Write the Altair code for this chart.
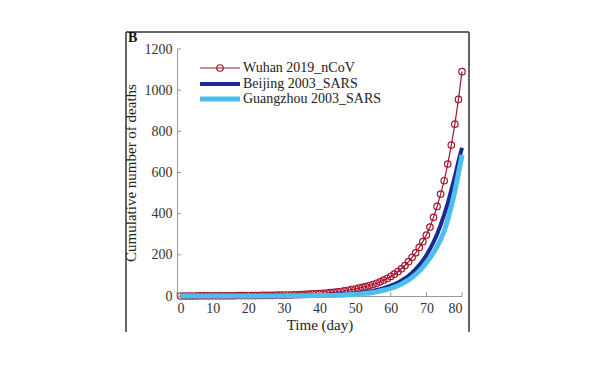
import altair as alt
import pandas as pd

days = list(range(1, 81))
wuhan = [0, 0, 0, 0, 0, 1, 1, 1, 1, 1,
         1, 1, 1, 1, 1, 1, 2, 2, 2, 2,
         2, 2, 2, 3, 3, 3, 3, 4, 4, 4,
         5, 5, 6, 6, 7, 8, 9, 10, 11, 12,
         13, 14, 16, 18, 20, 22, 25, 28, 31, 34,
         38, 42, 46, 51, 56, 62, 69, 77, 85, 95,
         106, 118, 132, 148, 167, 188, 210, 236, 264, 296,
         335, 382, 435, 495, 560, 641, 733, 835, 955, 1090]
beijing = [0, 0, 0, 0, 0, 0, 0, 0, 0, 0,
           0, 0, 0, 0, 0, 0, 0, 0, 0, 0,
           0, 0, 0, 0, 0, 1, 1, 1, 1, 1,
           1, 1, 2, 2, 2, 2, 2, 3, 3, 4,
           4, 5, 5, 6, 7, 8, 9, 10, 11, 13,
           15, 17, 19, 22, 25, 29, 33, 38, 44, 50,
           57, 65, 75, 86, 98, 113, 130, 150, 172, 198,
           228, 262, 300, 345, 395, 450, 515, 580, 655, 720]
guangzhou = [0, 0, 0, 0, 0, 0, 0, 0, 0, 0,
             0, 0, 0, 0, 0, 0, 0, 0, 0, 0,
             0, 0, 0, 0, 0, 0, 0, 0, 0, 0,
             1, 1, 1, 1, 1, 1, 1, 2, 2, 2,
             2, 2, 3, 3, 4, 4, 5, 6, 7, 8,
             9, 11, 13, 15, 17, 20, 24, 28, 32, 37,
             43, 50, 58, 68, 78, 91, 105, 121, 140, 162,
             185, 210, 240, 275, 315, 370, 435, 510, 595, 685]

series_names = ["Wuhan 2019_nCoV", "Beijing 2003_SARS", "Guangzhou 2003_SARS"]
series_colors = ["#A2142F", "#1B2A8F", "#4DBEEE"]
x_ticks = [0, 10, 20, 30, 40, 50, 60, 70, 80]
y_ticks = [0, 200, 400, 600, 800, 1000, 1200]

W, H = 285, 247
FONT = "Liberation Serif"

rows = []
for name, vals in zip(series_names, [wuhan, beijing, guangzhou]):
    for d, v in zip(days, vals):
        rows.append({"day": d, "value": v, "series": name})
df = pd.DataFrame(rows)

xs = alt.Scale(domain=[0, 80], nice=False, zero=False)
ys = alt.Scale(domain=[0, 1200], nice=False)
x_axis = alt.Axis(values=x_ticks, format="d", title="Time (day)", labelPadding=5, titlePadding=2)
y_axis = alt.Axis(values=y_ticks, format="d", title="Cumulative number of deaths", labelPadding=5, titlePadding=6)

X = alt.X("day:Q", scale=xs, axis=x_axis)
Y = alt.Y("value:Q", scale=ys, axis=y_axis)

base = alt.Chart(df)
wuhan_line = base.transform_filter(alt.datum.series == series_names[0]).mark_line(
    color=series_colors[0], strokeWidth=1.2).encode(x=X, y=Y)
wuhan_pts = base.transform_filter(alt.datum.series == series_names[0]).mark_point(
    shape="circle", filled=False, color=series_colors[0], size=42, strokeWidth=1.2, opacity=1).encode(x=X, y=Y)
beijing_line = base.transform_filter(alt.datum.series == series_names[1]).mark_line(
    color=series_colors[1], strokeWidth=4).encode(x=X, y=Y)
gz_line = base.transform_filter(alt.datum.series == series_names[2]).mark_line(
    color=series_colors[2], strokeWidth=5).encode(x=X, y=Y)

# inward ticks
xt = alt.Chart(pd.DataFrame({"day": x_ticks})).mark_rule(color="#999", strokeWidth=1).encode(
    x=X, y=alt.value(H), y2=alt.value(H - 4))
yt = alt.Chart(pd.DataFrame({"value": y_ticks})).mark_rule(color="#999", strokeWidth=1).encode(
    y=Y, x=alt.value(0), x2=alt.value(4))

# legend
leg_rows = [19, 35, 50]
legend_layers = []
for i, (name, col) in enumerate(zip(series_names, series_colors)):
    sw = [1.2, 4, 5][i]
    legend_layers.append(alt.Chart(pd.DataFrame({"a": [0]})).mark_rule(color=col, strokeWidth=sw).encode(
        x=alt.value(23), x2=alt.value(63), y=alt.value(leg_rows[i])))
    legend_layers.append(alt.Chart(pd.DataFrame({"a": [0]})).mark_text(
        align="left", baseline="middle", font=FONT, fontSize=14, color="#222").encode(
        x=alt.value(66), y=alt.value(leg_rows[i]), text=alt.value(name)))
legend_layers.append(alt.Chart(pd.DataFrame({"a": [0]})).mark_point(
    shape="circle", filled=False, color=series_colors[0], size=42, strokeWidth=1.2, opacity=1).encode(
    x=alt.value(43), y=alt.value(leg_rows[0])))

# frame and panel letter
one = pd.DataFrame({"a": [0]})
frame = [
    alt.Chart(one).mark_rule(color="#333", strokeWidth=1.5).encode(x=alt.value(-51), y=alt.value(-17), y2=alt.value(283)),
    alt.Chart(one).mark_rule(color="#333", strokeWidth=1.5).encode(x=alt.value(292), y=alt.value(-17), y2=alt.value(283)),
    alt.Chart(one).mark_rule(color="#333", strokeWidth=1.5).encode(x=alt.value(-51), x2=alt.value(292), y=alt.value(-17)),
    alt.Chart(one).mark_text(text="B", font=FONT, fontSize=14, fontWeight="bold", align="left",
                             baseline="alphabetic", color="#111").encode(x=alt.value(-49), y=alt.value(-7)),
]

chart = alt.layer(
    wuhan_line, wuhan_pts, beijing_line, gz_line, xt, yt, *legend_layers, *frame
).properties(
    width=W, height=H,
    autosize=alt.AutoSizeParams(type="none"),
    padding={"left": 169, "top": 41, "right": 129, "bottom": 85},
    background="white",
).configure_view(stroke=None).configure_axis(
    labelFont=FONT, titleFont=FONT, labelFontSize=14, titleFontSize=15,
    labelColor="#333", titleColor="#222", domainColor="#999", domainWidth=1,
    grid=False, ticks=False, titleFontWeight="normal",
)

chart.save("out.html", embed_options={"renderer": "svg", "actions": False})
